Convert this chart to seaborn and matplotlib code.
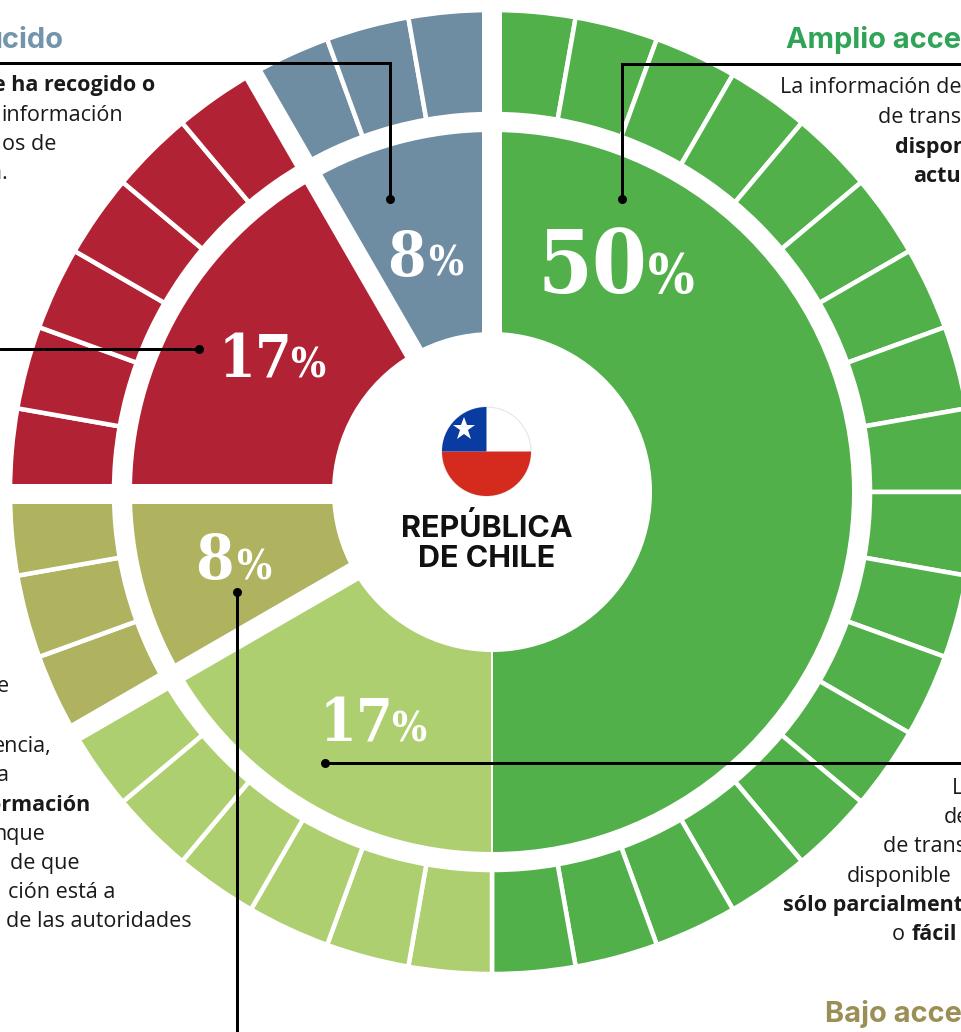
import numpy as np
import matplotlib
matplotlib.use('Agg')
import matplotlib.pyplot as plt
from matplotlib.patches import Circle, Wedge
import seaborn as sns

# Share of indicators per access level, clockwise from the top
categories = ['Amplio acceso', 'Acceso parcial', 'Bajo acceso', 'Sin acceso', 'Desconocido']
indicators = [18, 6, 3, 6, 3]
percent_labels = ['50', '17', '8', '17', '8']
colors = ['#52B04A', '#AECF6F', '#AFB25F', '#B12234', '#6E8CA2']

# Where the percent labels go: number left, % left, baseline, number size, % size
label_pos = [(537, 648, 293, 64, 40), (320, 391, 741, 43, 30), (195, 236, 579, 45, 30),
             (219, 290, 378, 43, 30), (387, 428, 276, 45, 30)]

cx, cy = 492, 492
px = 0.72  # pixels to points at dpi 100

sns.set_theme(style='white')
plt.rcParams['font.family'] = ['Open Sans', 'DejaVu Sans']
palette = sns.color_palette(colors)

fig = plt.figure(figsize=(9.61, 10.32), dpi=100)
ax = fig.add_axes([0, 0, 1, 1])

# Outer ring: one slice per indicator
ring_colors = [c for c, n in zip(palette, indicators) for _ in range(n)]
ax.pie([1] * sum(indicators), colors=ring_colors, center=(cx, cy), radius=482,
       startangle=270, counterclock=True,
       wedgeprops={'width': 104, 'edgecolor': 'white', 'linewidth': 4.5 * px})

# Inner ring: one slice per category
ax.pie(indicators, colors=palette, center=(cx, cy), radius=361,
       startangle=270, counterclock=True,
       wedgeprops={'width': 202, 'edgecolor': 'white', 'linewidth': 2 * px})

ax.set_xlim(0, 961)
ax.set_ylim(1032, 0)
ax.set_aspect('auto')
ax.axis('off')

# Wide white gaps between the categories, except green / light green
cum = np.cumsum([0] + indicators[:-1])
gap_shift = [0, 0, 0, -2, 2]
for c, sh in zip(cum, gap_shift):
    if c == indicators[0]:
        continue
    a = np.deg2rad(270 + c * 360 / sum(indicators))
    # shift sideways so the gap sits where the reference has it
    ox, oy = -sh * np.sin(a), sh * np.cos(a)
    ax.plot([cx + ox, cx + ox + 500 * np.cos(a)], [cy + oy, cy + oy + 500 * np.sin(a)],
            color='white', lw=20 * px, solid_capstyle='butt', zorder=3)

# Flag
fc = (486.5, 451.5)
fr = 44.5
ax.add_patch(Circle(fc, fr, fc='white', ec='#e6e6e6', lw=0.8, zorder=4))
ax.add_patch(Wedge(fc, fr, 0, 180, fc='#D52B1E', ec='none', zorder=5))
ax.add_patch(Wedge(fc, fr, 180, 270, fc='#0A3BA0', ec='none', zorder=5))
ax.plot([464], [429], marker='*', ms=24 * px, color='white', mew=0, zorder=6)

ax.text(487, 537, 'REPÚBLICA', ha='center', va='baseline', family='Inter', fontsize=30.5 * px, fontweight='bold', color='#111111', zorder=6)
ax.text(487, 567, 'DE CHILE', ha='center', va='baseline', family='Inter', fontsize=30.5 * px, fontweight='bold', color='#111111', zorder=6)

# Percent labels
for lab, (x1, x2, y, s1, s2) in zip(percent_labels, label_pos):
    ax.text(x1, y, lab, family='DejaVu Serif', stretch='condensed', fontweight='bold', color='white',
            fontsize=s1 / 0.73 * px, ha='left', va='baseline', zorder=6)
    ax.text(x2, y, '%', family='DejaVu Serif', stretch='condensed', fontweight='bold', color='white',
            fontsize=s2 / 0.73 * px, ha='left', va='baseline', zorder=6)

# Leader lines
leaders = [([0, 390, 390], [63, 63, 199], (390, 199)),
           ([961, 622, 622], [64, 64, 199], (622, 199)),
           ([0, 199], [349, 349], (199, 349)),
           ([961, 325], [763, 763], (325, 763)),
           ([237, 237], [1032, 592], (237, 592))]
for xs, ys, dot in leaders:
    ax.plot(xs, ys, color='black', lw=3 * px, solid_joinstyle='miter', zorder=7)
    ax.plot(*dot, marker='o', ms=9 * px, color='black', mew=0, zorder=7)

# Headings, cut by the edge of the picture as in the original
ax.text(63, 48, 'ucido', ha='right', va='baseline', family='Inter', fontsize=29 * px, fontweight='bold', color='#7295AB')
ax.text(786, 48, 'Amplio acce', ha='left', va='baseline', family='Inter', fontsize=29 * px, fontweight='bold', color='#2FA456')
ax.text(825, 1022, 'Bajo acce', ha='left', va='baseline', family='Inter', fontsize=29 * px, fontweight='bold', color='#9A8F55')

# Body text fragments: x, baseline, text, align, weight
body = [(155, 91, 'e ha recogido o', 'right', 'bold'), (123, 121, 'información', 'right', 'normal'),
        (56, 150, 'os de', 'right', 'normal'), (8, 179, 'a.', 'right', 'normal'),
        (9, 692, 'e', 'right', 'normal'), (52, 752, 'encia,', 'right', 'normal'),
        (9, 781, 'a', 'right', 'normal'), (90, 811, 'ormación', 'right', 'bold'),
        (45, 840, 'nque', 'right', 'normal'), (80, 869, 'de que', 'right', 'normal'),
        (115, 898, 'ción está a', 'right', 'normal'), (192, 927, 'de las autoridades', 'right', 'normal'),
        (780, 93, 'La información de', 'left', 'normal'), (878, 123, 'de trans', 'left', 'normal'),
        (895, 153, 'dispon', 'left', 'bold'), (913, 182, 'actu', 'left', 'bold'),
        (952, 794, 'L', 'left', 'normal'), (944, 823, 'de', 'left', 'normal'),
        (883, 852, 'de trans', 'left', 'normal'), (847, 882, 'disponible', 'left', 'normal'),
        (783, 911, 'sólo parcialment', 'left', 'bold'), (892, 940, 'o', 'left', 'normal'),
        (912, 940, 'fácil', 'left', 'bold')]
for x, y, s, ha, w in body:
    ax.text(x, y, s, ha=ha, va='baseline', fontsize=21.5 * px, fontweight=w, color='#1a1a1a', zorder=8)

fig.savefig('out.png', dpi=100)
